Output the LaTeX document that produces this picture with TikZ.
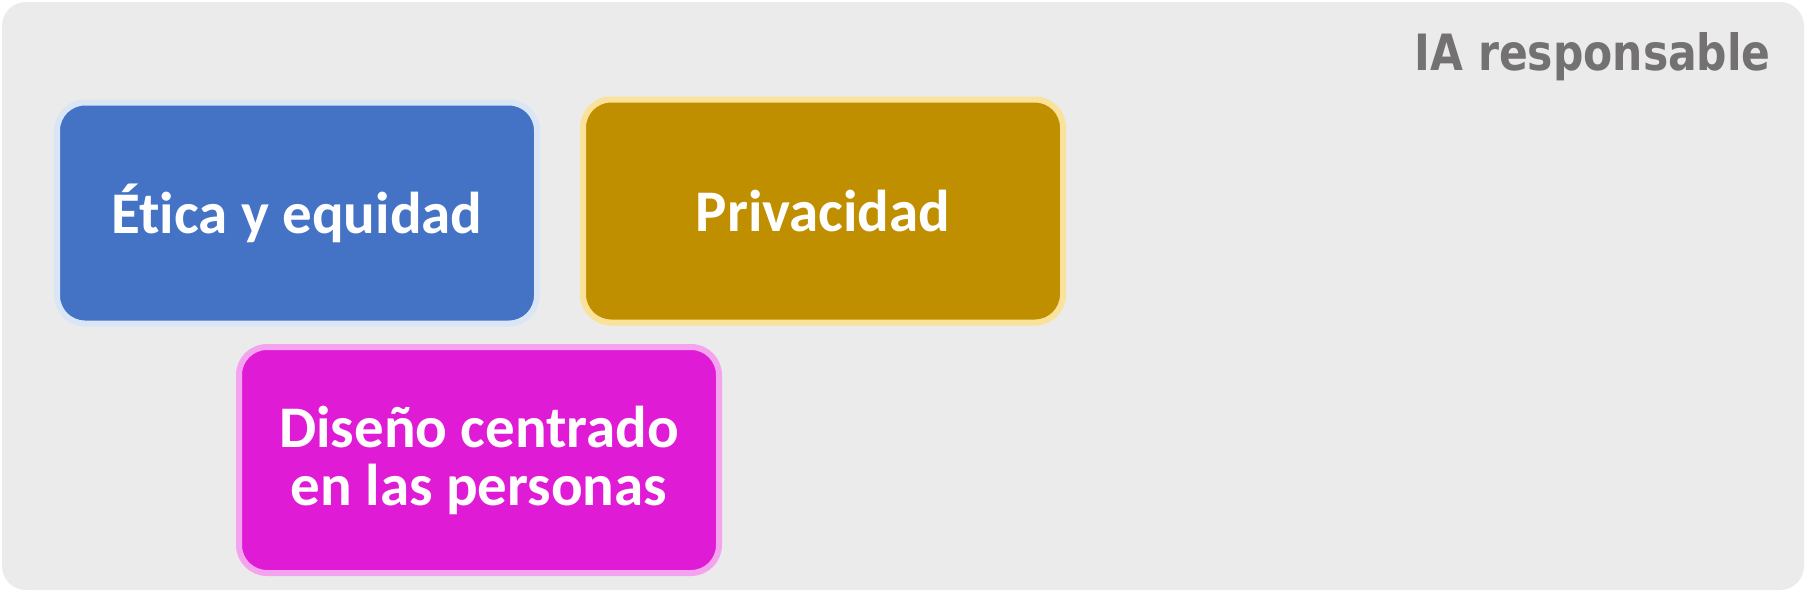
\documentclass[tikz,border=0pt]{standalone}
\usepackage{fontspec}
\setmainfont{Carlito}[Ligatures=NoCommon]
\newfontfamily\titlefont{DejaVu Sans}
\definecolor{bgcol}{HTML}{EBEBEB}
\definecolor{bluefill}{HTML}{4472C4}
\definecolor{blueedge}{HTML}{DAE6F6}
\definecolor{goldfill}{HTML}{BF8F00}
\definecolor{goldedge}{HTML}{FBE29A}
\definecolor{pinkfill}{HTML}{E01BD6}
\definecolor{pinkedge}{HTML}{F4A3EE}
\definecolor{titlegray}{HTML}{737171}
\begin{document}
\begin{tikzpicture}[x=1pt,y=-1pt,
  card/.style={rounded corners=28pt, line width=6pt, inner sep=0pt,
    text=white, align=center, minimum width=480pt,
    font=\fontsize{59}{58}\selectfont\bfseries},
  bluecard/.style={card, fill=bluefill, draw=blueedge},
  goldcard/.style={card, fill=goldfill, draw=goldedge},
  pinkcard/.style={card, fill=pinkfill, draw=pinkedge},
  titlestyle/.style={inner sep=0pt, text=titlegray,
    font=\titlefont\fontsize{50}{54}\selectfont\bfseries}]
\useasboundingbox (0,0) rectangle (1808,592);
\fill[white] (0,0) rectangle (1808,592);
\fill[bgcol, rounded corners=24pt] (2,2) rectangle (1804,590);
\node[titlestyle, anchor=base east] (title) at (1771,70) {\scalebox{0.85}[1]{IA responsable}};
\node[bluecard, minimum height=221pt] (etica) at (297,213) {Ética y equidad};
\node[goldcard, minimum height=223pt] (priv) at (823,211) {Privacidad};
\node[pinkcard, minimum height=226pt] (dise) at (479,460) {Diseño centrado\\en las personas};
\end{tikzpicture}
\end{document}
